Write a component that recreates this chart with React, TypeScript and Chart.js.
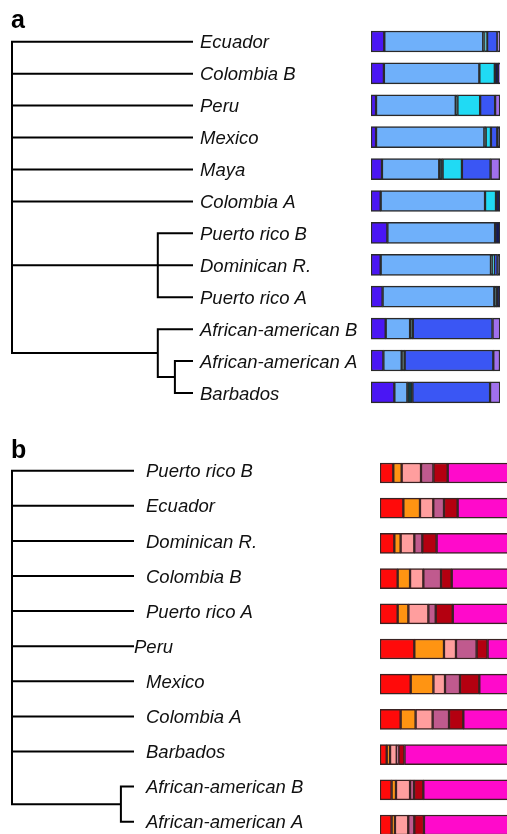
import React, { useEffect, useRef } from "react";
import { Chart, registerables } from "chart.js";
Chart.register(...registerables);

type TreeNode = number | { h: number; c: TreeNode[] };

// ---------- Panel a ----------
const leavesA = [
  "Ecuador", "Colombia B", "Peru", "Mexico", "Maya", "Colombia A",
  "Puerto rico B", "Dominican R.", "Puerto rico A",
  "African-american B", "African-american A", "Barbados",
];
// leaves are indices into leavesA (leaf height = 1), h = node height
const treeA: TreeNode = {
  h: 0,
  c: [0, 1, 2, 3, 4, 5, { h: 0.81, c: [6, 7, 8] }, { h: 0.81, c: [9, { h: 0.905, c: [10, 11] }] }],
};
const violetA = [0.103, 0.1, 0.039, 0.039, 0.085, 0.075, 0.127, 0.075, 0.09, 0.114, 0.096, 0.181];
const lightBlueA = [0.767, 0.74, 0.618, 0.84, 0.444, 0.809, 0.835, 0.855, 0.866, 0.189, 0.142, 0.101];
const darkTealA = [0.01, 0, 0.013, 0.01, 0.026, 0, 0, 0.013, 0.018, 0.021, 0.023, 0.039];
const cyanA = [0.02, 0.12, 0.176, 0.041, 0.15, 0.085, 0, 0.01, 0, 0, 0, 0];
const blueA = [0.08, 0, 0.116, 0.049, 0.222, 0, 0, 0.028, 0, 0.618, 0.687, 0.602];
const navyA = [0, 0.03, 0, 0.021, 0, 0.031, 0.039, 0.018, 0.026, 0, 0, 0];
const lavenderA = [0.02, 0.01, 0.039, 0, 0.072, 0, 0, 0, 0, 0.059, 0.052, 0.078];

// ---------- Panel b ----------
const leavesB = [
  "Puerto rico B", "Ecuador", "Dominican R.", "Colombia B", "Puerto rico A",
  "Peru", "Mexico", "Colombia A", "Barbados", "African-american B", "African-american A",
];
const treeB: TreeNode = { h: 0, c: [0, 1, 2, 3, 4, 5, 6, 7, 8, { h: 0.9, c: [9, 10] }] };
const tightLabelsB = ["Peru"];
const redB = [0.103, 0.181, 0.111, 0.137, 0.137, 0.266, 0.238, 0.16, 0.052, 0.09, 0.09];
const orangeB = [0.065, 0.129, 0.049, 0.096, 0.083, 0.23, 0.176, 0.116, 0.026, 0.034, 0.026];
const pinkB = [0.15, 0.103, 0.106, 0.103, 0.155, 0.093, 0.09, 0.132, 0.052, 0.109, 0.103];
const mauveB = [0.096, 0.083, 0.062, 0.137, 0.057, 0.16, 0.116, 0.127, 0.013, 0.031, 0.047];
const darkRedB = [0.111, 0.106, 0.111, 0.083, 0.132, 0.085, 0.15, 0.111, 0.047, 0.072, 0.075];
const magentaB = [0.475, 0.398, 0.561, 0.444, 0.437, 0.165, 0.23, 0.354, 0.811, 0.664, 0.659];

const LABEL_FONT = 'italic 18.5px "Liberation Sans", Arial, sans-serif';
const LETTER_FONT = 'bold 25px "Liberation Sans", Arial, sans-serif';

function treeSegments(tree: TreeNode) {
  const pts: { x: number; y: number | null }[] = [];
  const yOf = (n: TreeNode): number =>
    typeof n === "number" ? n : (yOf(n.c[0]) + yOf(n.c[n.c.length - 1])) / 2;
  const hOf = (n: TreeNode) => (typeof n === "number" ? 1 : n.h);
  const walk = (n: TreeNode) => {
    if (typeof n === "number") return;
    pts.push({ x: n.h, y: yOf(n.c[0]) }, { x: n.h, y: yOf(n.c[n.c.length - 1]) }, { x: NaN, y: null });
    n.c.forEach((ch) => {
      const yc = yOf(ch);
      pts.push({ x: n.h, y: yc }, { x: hOf(ch), y: yc }, { x: NaN, y: null });
      walk(ch);
    });
  };
  walk(tree);
  return pts;
}

function treeConfig(tree: TreeNode, leaves: string[], letter: string, pad: any, gap: number, tight: string[]): any {
  const labelPlugin = {
    id: "leafLabels" + letter,
    afterDatasetsDraw(chart: any) {
      const ctx = chart.ctx;
      const xs = chart.scales.x;
      const ys = chart.scales.y;
      ctx.save();
      ctx.fillStyle = "#111";
      ctx.font = LABEL_FONT;
      ctx.textAlign = "left";
      ctx.textBaseline = "alphabetic";
      leaves.forEach((name, i) => {
        const g = tight.includes(name) ? 1 : gap;
        ctx.fillText(name, xs.getPixelForValue(1) + g, ys.getPixelForValue(i) + 6.6);
      });
      ctx.font = LETTER_FONT;
      ctx.fillStyle = "#000";
      ctx.fillText(letter, 11, 28);
      ctx.restore();
    },
  };
  return {
    type: "scatter",
    data: {
      datasets: [
        {
          data: treeSegments(tree),
          showLine: true,
          spanGaps: false,
          borderColor: "#000",
          borderWidth: 2,
          borderCapStyle: "square",
          pointRadius: 0,
          clip: false,
        },
      ],
    },
    options: {
      responsive: false,
      animation: false,
      layout: { padding: pad },
      plugins: { legend: { display: false }, tooltip: { enabled: false } },
      scales: {
        x: { type: "linear", min: 0, max: 1, display: false },
        y: { type: "linear", min: 0, max: leaves.length - 1, reverse: true, display: false },
      },
    },
    plugins: [labelPlugin],
  };
}

function barConfig(leaves: string[], series: { data: number[]; color: string }[], thickness: number, border: string, pad: any): any {
  return {
    type: "bar",
    data: {
      labels: leaves,
      datasets: series.map((s) => ({
        data: s.data,
        backgroundColor: s.color,
        borderColor: border,
        borderWidth: 1.5,
        borderSkipped: false,
        barThickness: thickness,
      })),
    },
    options: {
      indexAxis: "y",
      responsive: false,
      animation: false,
      layout: { padding: pad },
      plugins: { legend: { display: false }, tooltip: { enabled: false } },
      scales: {
        x: { stacked: true, min: 0, max: 1, display: false },
        y: { stacked: true, display: false },
      },
    },
  };
}

function ChartCanvas({ make, left, top, width, height }: { make: () => any; left: number; top: number; width: number; height: number }) {
  const ref = useRef<HTMLCanvasElement>(null);
  useEffect(() => {
    const chart = new Chart(ref.current as HTMLCanvasElement, make());
    return () => chart.destroy();
  }, []);
  return (
    <canvas
      ref={ref}
      width={width}
      height={height}
      style={{ position: "absolute", left, top, width, height }}
    />
  );
}

export default function App() {
  const seriesA = [
    { data: violetA, color: "#4A16F4" },
    { data: lightBlueA, color: "#6FB0FA" },
    { data: darkTealA, color: "#0E3A42" },
    { data: cyanA, color: "#20DAF4" },
    { data: blueA, color: "#3A56F4" },
    { data: navyA, color: "#161A52" },
    { data: lavenderA, color: "#A070EE" },
  ];
  const seriesB = [
    { data: redB, color: "#FF0A0A" },
    { data: orangeB, color: "#FF9412" },
    { data: pinkB, color: "#FF9E9E" },
    { data: mauveB, color: "#C05A8E" },
    { data: darkRedB, color: "#B40010" },
    { data: magentaB, color: "#FF0ACB" },
  ];
  return (
    <div style={{ position: "absolute", left: 0, top: 0, width: 507, height: 834, overflow: "hidden", background: "#fff" }}>
      <ChartCanvas
        left={0} top={0} width={507} height={420}
        make={() => treeConfig(treeA, leavesA, "a", { left: 12, right: 315, top: 41.7, bottom: 27 }, 8, [])}
      />
      <ChartCanvas
        left={0} top={0} width={507} height={420}
        make={() => barConfig(leavesA, seriesA, 21, "#2a2a2a", { left: 371, right: 7, top: 25.55, bottom: 11.65 })}
      />
      <ChartCanvas
        left={0} top={430} width={507} height={420}
        make={() => treeConfig(treeB, leavesB, "b", { left: 12, right: 374, top: 40.7, bottom: 28.3 }, 13, tightLabelsB)}
      />
      <ChartCanvas
        left={0} top={430} width={520} height={420}
        make={() => barConfig(leavesB, seriesB, 20, "#3a2222", { left: 380, right: 11, top: 25.4, bottom: 7.4 })}
      />
    </div>
  );
}
